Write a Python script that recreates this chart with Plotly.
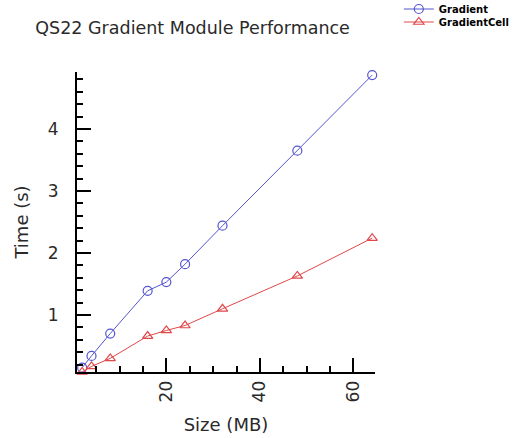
import plotly.graph_objects as go

# Array sizes tested (MB)
sizes = [2, 4, 8, 16, 20, 24, 32, 48, 64]
# Run time in seconds for each module
gradient_time = [0.15, 0.34, 0.70, 1.39, 1.53, 1.82, 2.44, 3.65, 4.87]
gradient_cell_time = [0.08, 0.17, 0.30, 0.66, 0.75, 0.83, 1.10, 1.63, 2.24]

x_major = [20, 40, 60]
y_major = [1, 2, 3, 4]

FONT = "DejaVu Sans"
INK = "#2a2a2a"
BLUE = "#5555d0"
RED = "#e0484a"

fig = go.Figure()
fig.add_trace(go.Scatter(
    x=sizes, y=gradient_time, name="Gradient", mode="lines+markers",
    line=dict(color=BLUE, width=1),
    marker=dict(symbol="circle-open", size=9, color=BLUE, line=dict(width=1.2)),
    cliponaxis=False, legend="legend",
))
fig.add_trace(go.Scatter(
    x=sizes, y=gradient_cell_time, name="GradientCell", mode="lines+markers",
    line=dict(color=RED, width=1),
    marker=dict(symbol="triangle-up-open", size=9, color=RED, line=dict(width=1.2)),
    cliponaxis=False, legend="legend2",
))

axis_common = dict(
    showgrid=False, zeroline=False, showline=True, linecolor="black", linewidth=2,
    ticks="inside", ticklen=14, tickwidth=1.5, tickcolor="black",
    tickfont=dict(family=FONT, size=17, color=INK),
)

fig.update_xaxes(
    **axis_common,
    range=[0.9, 64.6], tickmode="array", tickvals=x_major,
    ticktext=[str(v) for v in x_major], tickangle=-90,
    minor=dict(dtick=5, tick0=0, ticks="inside", ticklen=6, tickwidth=1.5, tickcolor="black"),
    title=dict(text="Size (MB)", font=dict(family=FONT, size=18, color=INK), standoff=17),
)
fig.update_yaxes(
    **axis_common,
    range=[0.08, 4.92], tickmode="array", tickvals=y_major,
    ticktext=[str(v) for v in y_major],
    minor=dict(dtick=0.2, tick0=0, ticks="inside", ticklen=6, tickwidth=1.5, tickcolor="black"),
    ticklabelstandoff=13,
    title=dict(text="Time (s)", font=dict(family=FONT, size=18, color=INK), standoff=14),
)

legend_style = dict(xanchor="left", yanchor="middle",
                    font=dict(family=FONT, size=10, color="black", weight="bold"),
                    bgcolor="rgba(0,0,0,0)", itemwidth=30, borderwidth=0)

fig.update_layout(
    width=522, height=438,
    margin=dict(l=77, r=147, t=72, b=66, autoexpand=False),
    paper_bgcolor="white", plot_bgcolor="white",
    title=dict(text="QS22 Gradient Module Performance", x=0.369, xanchor="center",
               y=0.936, yanchor="middle", xref="container", yref="container",
               font=dict(family=FONT, size=17.5, color=INK)),
    legend=dict(x=1.08, y=(372 - 9) / 300, **legend_style),
    legend2=dict(x=1.08, y=(372 - 22) / 300, **legend_style),
    showlegend=True,
)

fig.write_html("out.html")
